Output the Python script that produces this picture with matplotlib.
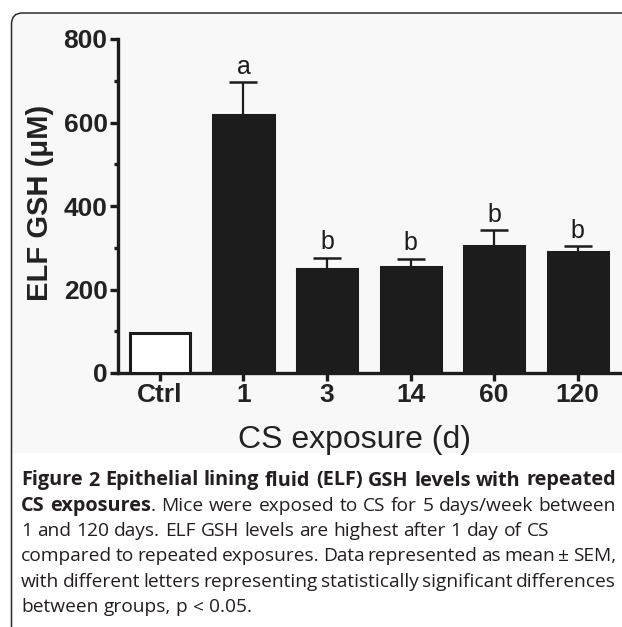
import numpy as np
import matplotlib
matplotlib.use("Agg")
import matplotlib.pyplot as plt
from matplotlib.patches import FancyBboxPatch, Rectangle
from matplotlib.transforms import IdentityTransform

# data
groups = ["Ctrl", "1", "3", "14", "60", "120"]
gsh_mean = [95, 617, 248, 254, 303, 290]
gsh_sem = [0, 80, 28, 20, 39, 14]
sig_letters = ["", "a", "b", "b", "b", "b"]
yticks_major = [0, 200, 400, 600, 800]
yticks_minor = [100, 300, 500, 700]

# caption: each line is a list of (text, bold) segments
caption_lines = [
    [("Figure 2 Epithelial lining fluid (ELF) GSH levels with repeated", True)],
    [("CS exposures", True), (". Mice were exposed to CS for 5 days/week between", False)],
    [("1 and 120 days. ELF GSH levels are highest after 1 day of CS", False)],
    [("compared to repeated exposures. Data represented as mean \u00b1 SEM,", False)],
    [("with different letters representing statistically significant differences", False)],
    [("between groups, p < 0.05.", False)],
]
caption_justify = [True, True, False, True, True, False]

W, H = 622, 627
plt.rcParams["font.family"] = ["Liberation Sans", "DejaVu Sans"]
fig = plt.figure(figsize=(W / 100, H / 100), dpi=100)


def fx(x):
    return x / W


def fy(y):
    # y measured from the top in pixels
    return 1 - y / H


# light panel background and rounded frame
fig.add_artist(Rectangle((12, H - 453), W, 453 - 14, transform=IdentityTransform(),
                         facecolor="#f8f8f8", edgecolor="none", zorder=0))
fig.add_artist(FancyBboxPatch((11.5, -60), 700, H - 13 + 60, transform=IdentityTransform(),
                              boxstyle="round,pad=0,rounding_size=11",
                              facecolor="none", edgecolor="#2b2b2b", linewidth=1.1, zorder=1))

ax = fig.add_axes([fx(118), (H - 373) / H, fx(504), 334 / H])
ax.patch.set_alpha(0)

x = np.arange(len(groups))
bar_colors = ["white"] + ["#1c1c1c"] * (len(groups) - 1)
ax.bar(x, gsh_mean, width=0.72, color=bar_colors, edgecolor="#1c1c1c",
       linewidth=2.2, zorder=3)

eb = ax.errorbar(x[1:], gsh_mean[1:], yerr=[np.zeros(len(groups) - 1), gsh_sem[1:]],
                 fmt="none", ecolor="#1c1c1c", elinewidth=1.6, capsize=10,
                 capthick=1.8, zorder=2)
eb[1][0].set_visible(False)

for xi, m, s, lab in zip(x, gsh_mean, gsh_sem, sig_letters):
    if lab:
        ax.text(xi, m + s + 8, lab, ha="center", va="bottom", fontsize=18, color="#1c1c1c")

ax.set_xlim(-0.502, 5.53)
ax.set_ylim(0, 800)
ax.spines["top"].set_visible(False)
ax.spines["right"].set_visible(False)
for sp in ["left", "bottom"]:
    ax.spines[sp].set_linewidth(2.4)
    ax.spines[sp].set_color("#1c1c1c")

ax.set_xticks(x)
ax.set_xticklabels(groups)
ax.set_yticks(yticks_major)
ax.set_yticks(yticks_minor, minor=True)
ax.tick_params(axis="both", which="major", direction="out", length=6, width=2.4,
               labelsize=19, color="#1c1c1c", labelcolor="#222222", pad=1.5)
ax.tick_params(axis="y", which="minor", direction="out", length=3, width=2.4, color="#1c1c1c")
for lbl in ax.get_xticklabels() + ax.get_yticklabels():
    lbl.set_fontweight("bold")

fig.text(fx(40), fy(203), "ELF GSH (\u03bcM)", rotation=90, ha="center", va="center",
         fontsize=21, fontweight="bold", color="#222222")
fig.text(fx(354), fy(440), "CS exposure (d)", ha="center", va="center", fontsize=23,
         color="#222222")

# caption with justified lines
renderer = fig.canvas.get_renderer()
cap_left, cap_right = 21, 616
cap_family = ["Open Sans", "DejaVu Sans"]


def text_width(s, bold, size):
    t = fig.text(0, 0, s, fontsize=size, family=cap_family,
                 fontweight="bold" if bold else "normal")
    w = t.get_window_extent(renderer).width
    t.remove()
    return w


# pick font size so the unjustified third line has its natural width (~527 px)
probe = caption_lines[2][0][0]
cap_size = 12 * 527 / text_width(probe, False, 12)
bold_size = cap_size * 1.04

for i, (line, just) in enumerate(zip(caption_lines, caption_justify)):
    words = []
    for seg_text, bold in line:
        parts = seg_text.split(" ")
        for k, p in enumerate(parts):
            if p == "":
                continue
            if k == 0 and words and not seg_text.startswith(" "):
                words[-1].append((p, bold))
            else:
                words.append([(p, bold)])
    widths = [sum(text_width(p, b, bold_size if b else cap_size) for p, b in w)
              for w in words]
    if just and len(words) > 1:
        gap = (cap_right - cap_left - sum(widths)) / (len(words) - 1)
    else:
        gap = text_width("x x", False, cap_size) - text_width("xx", False, cap_size)
    base = 485.5 + 25.3 * i
    xpos = cap_left
    for w, wd in zip(words, widths):
        xp = xpos
        for p, b in w:
            size = bold_size if b else cap_size
            fig.text(fx(xp), fy(base), p, fontsize=size, family=cap_family,
                     fontweight="bold" if b else "normal", va="baseline", ha="left",
                     color="#231f20")
            xp += text_width(p, b, size)
        xpos += wd + gap

fig.savefig("out.png", dpi=100)
